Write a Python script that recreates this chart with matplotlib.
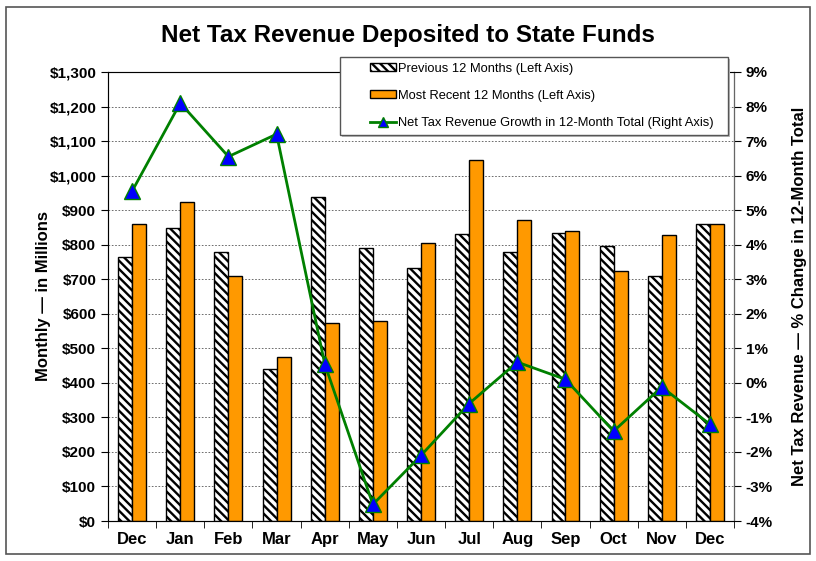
import matplotlib.pyplot as plt
import matplotlib.ticker as mticker
from matplotlib.patches import Rectangle
import numpy as np

plt.rcParams['font.family'] = ['Liberation Sans', 'DejaVu Sans']
plt.rcParams['hatch.linewidth'] = 1.7

months = ["Dec", "Jan", "Feb", "Mar", "Apr", "May", "Jun",
          "Jul", "Aug", "Sep", "Oct", "Nov", "Dec"]
previous = [764, 847, 780, 441, 937, 790, 733, 830, 778, 835, 796, 708, 860]
recent = [860, 924, 708, 476, 572, 578, 806, 1045, 872, 840, 724, 828, 860]
growth = [5.55, 8.1, 6.55, 7.2, 0.55, -3.52, -2.1, -0.6, 0.6, 0.1, -1.4, -0.12, -1.2]

fig = plt.figure(figsize=(8.16, 5.61), dpi=100)
# outer frame
fig.patches.append(Rectangle((0.007, 0.012), 0.986, 0.975, transform=fig.transFigure,
                             fill=False, edgecolor="#555555", linewidth=1.2))

ax = fig.add_axes([0.1324, 0.0713, 0.7671, 0.8004])
x = np.arange(len(months))
w = 0.29
b1 = ax.bar(x - w / 2, previous, w, color="white", edgecolor="black",
            hatch="\\\\\\\\", linewidth=1, label="Previous 12 Months (Left Axis)", zorder=3)
b2 = ax.bar(x + w / 2, recent, w, color="#FF9900", edgecolor="black",
            linewidth=1, label="Most Recent 12 Months (Left Axis)", zorder=3)

ax.set_xlim(-0.5, len(months) - 0.5)
ax.set_ylim(0, 1300)
ax.yaxis.set_major_locator(mticker.MultipleLocator(100))
ax.yaxis.set_major_formatter(mticker.FuncFormatter(lambda v, p: f"${v:,.0f}"))
ax.set_xticks(x)
ax.set_xticklabels(months, fontsize=12, fontweight="bold")
ax.set_xticks(np.arange(-0.5, len(months), 1), minor=True)
ax.tick_params(axis="x", which="major", length=0, pad=8)
ax.tick_params(axis="x", which="minor", length=5, direction="out")
ax.tick_params(axis="y", length=5, direction="out", labelsize=11)
for t in ax.get_yticklabels():
    t.set_fontweight("bold")
ax.grid(axis="y", color="#555555", linestyle=(0, (2, 2)), linewidth=0.6, zorder=0)
ax.set_ylabel("Monthly \u2014 in Millions", fontsize=12, fontweight="bold", labelpad=-1)
ax.spines["top"].set_color("#888888")
ax.spines["left"].set_color("#666666")
ax.spines["bottom"].set_color("#666666")

ax2 = ax.twinx()
l1, = ax2.plot(x, growth, color="#008000", linewidth=2, marker="^", markersize=11,
               markerfacecolor="#0000FF", markeredgecolor="#008000", markeredgewidth=1,
               label="Net Tax Revenue Growth in 12-Month Total (Right Axis)", zorder=4)
ax2.set_ylim(-4, 9)
ax2.yaxis.set_major_locator(mticker.MultipleLocator(1))
ax2.yaxis.set_major_formatter(mticker.FuncFormatter(lambda v, p: f"{v:.0f}%"))
ax2.tick_params(axis="y", length=5, direction="out", labelsize=11)
for t in ax2.get_yticklabels():
    t.set_fontweight("bold")
ax2.set_ylabel("Net Tax Revenue \u2014 % Change in 12-Month Total", fontsize=12,
               fontweight="bold", labelpad=14)
ax2.spines["right"].set_color("#666666")

fig.text(0.5, 0.937, "Net Tax Revenue Deposited to State Funds", fontsize=17.5,
         fontweight="bold", ha="center", va="center")

# legend box with light shadow
fig.patches.append(Rectangle((0.4192, 0.7558), 0.4755, 0.139, transform=fig.transFigure,
                             facecolor="#BBBBBB", edgecolor="none", zorder=8))
fig.patches.append(Rectangle((0.4167, 0.7594), 0.4755, 0.139, transform=fig.transFigure,
                             facecolor="white", edgecolor="#555555", linewidth=1, zorder=9))
leg = fig.legend([b1, b2, l1], [b1.get_label(), b2.get_label(), l1.get_label()],
                 loc="upper left", bbox_to_anchor=(0.449, 0.895), fontsize=9.3,
                 frameon=False, labelspacing=1.17, markerscale=0.6,
                 handlelength=2.0, handleheight=0.6, handletextpad=0.15,
                 borderpad=0.3, borderaxespad=0)
leg.set_zorder(10)

fig.savefig("out.png", dpi=100)
